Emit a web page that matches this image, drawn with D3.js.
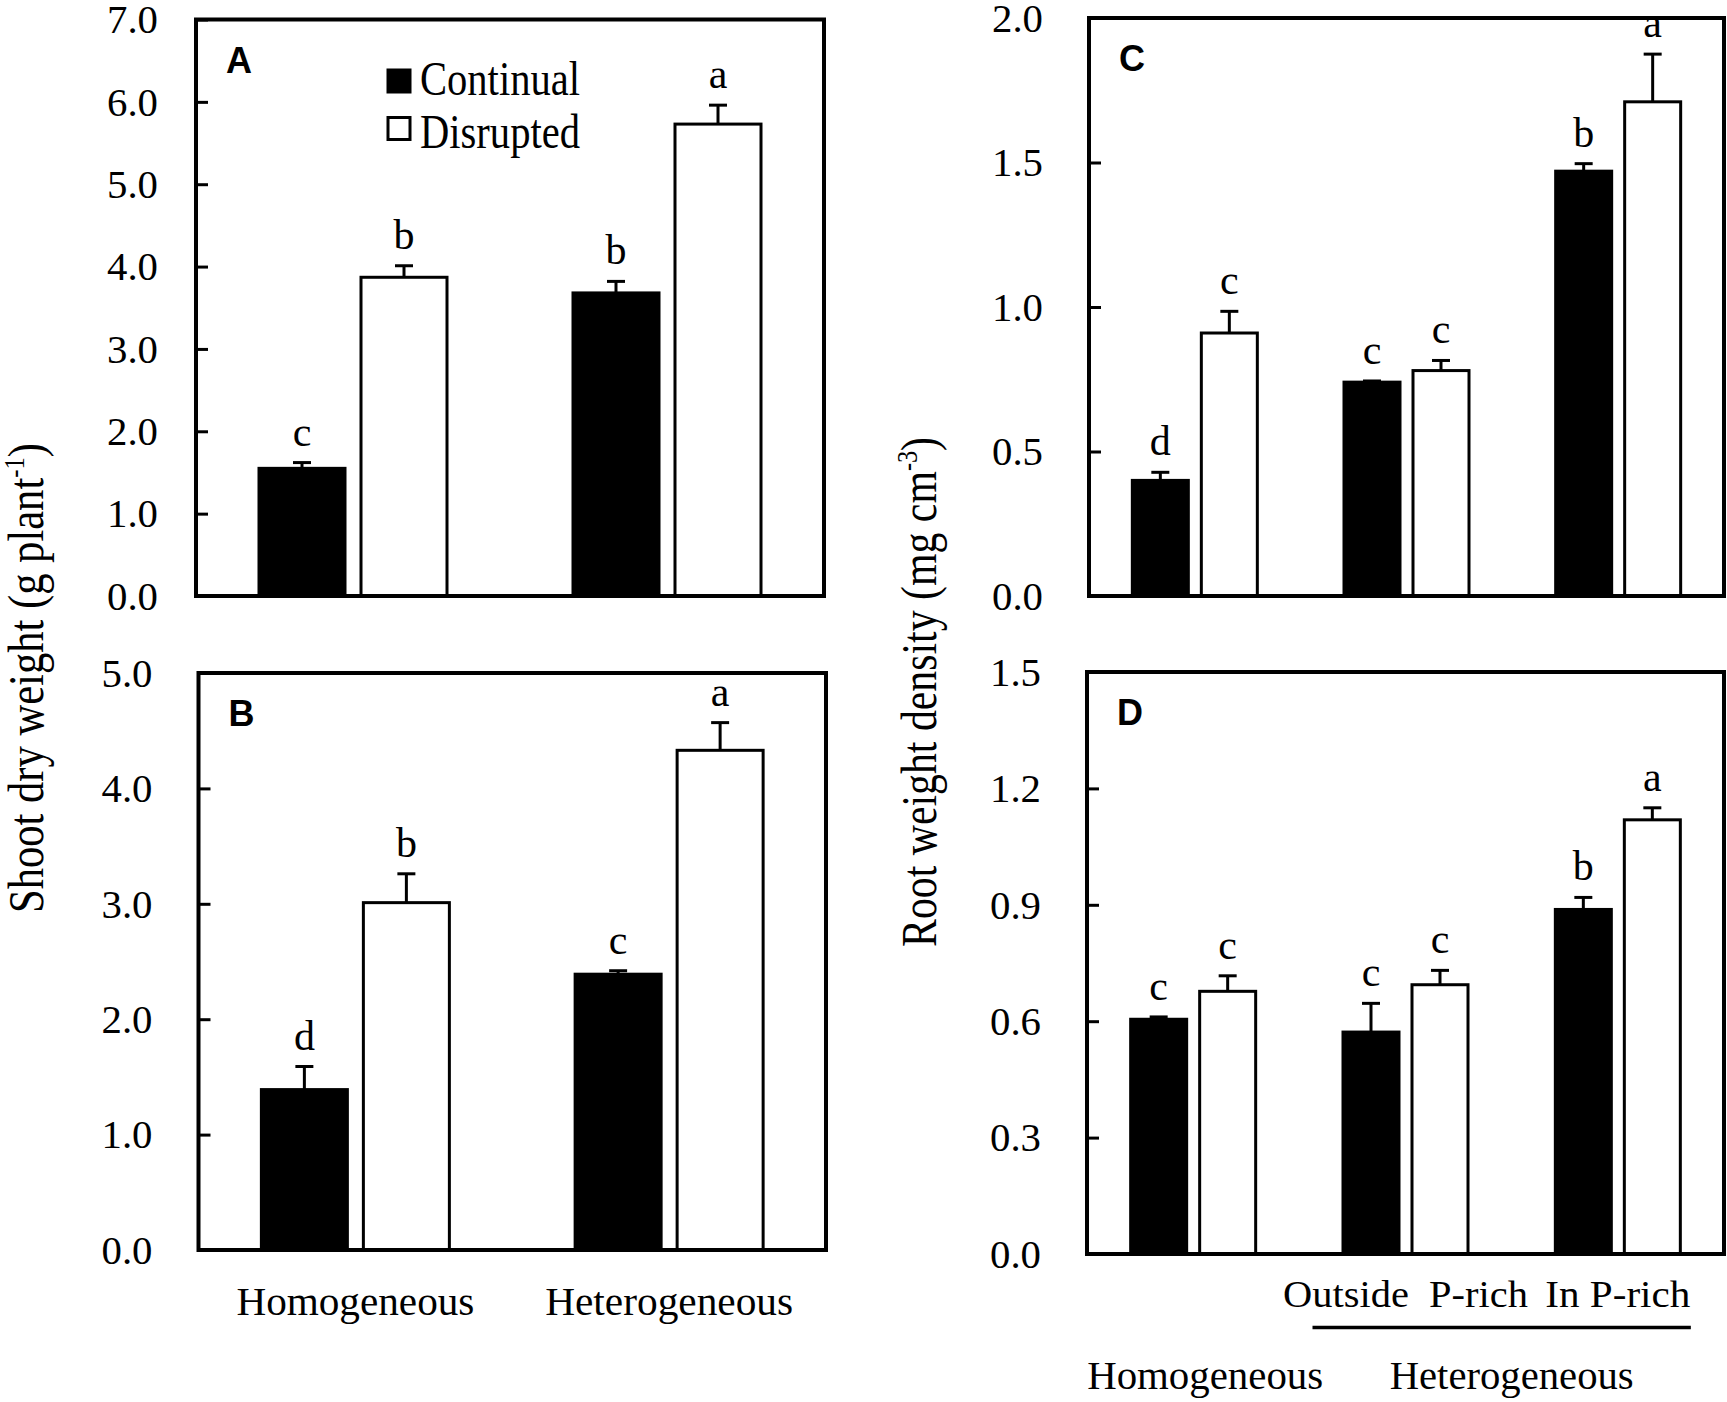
<!DOCTYPE html>
<html>
<head>
<meta charset="utf-8">
<script src="https://cdn.jsdelivr.net/npm/d3@7"></script>
<style>
  body { margin: 0; background: #fff; }
  text { font-family: "Liberation Serif", "Times New Roman", serif; fill: #000; }
</style>
</head>
<body>
<script>
// data
var series = ['Continual', 'Disrupted'];
var groupsAB = ['Homogeneous', 'Heterogeneous'];
var groupsCD = ['Homogeneous', 'Outside P-rich', 'In P-rich'];

// A: shoot dry weight
var contA = [1.55, 3.68], contErrA = [0.07, 0.14], contLetA = ['c', 'b'];
var disrA = [3.87, 5.73], disrErrA = [0.14, 0.23], disrLetA = ['b', 'a'];
var ticksA = [0, 1, 2, 3, 4, 5, 6, 7];

// B: shoot dry weight
var contB = [1.39, 2.39], contErrB = [0.20, 0.03], contLetB = ['d', 'c'];
var disrB = [3.01, 4.33], disrErrB = [0.25, 0.24], disrLetB = ['b', 'a'];
var ticksB = [0, 1, 2, 3, 4, 5];

// C: root weight density
var contC = [0.40, 0.74, 1.47], contErrC = [0.028, 0.004, 0.026], contLetC = ['d', 'c', 'b'];
var disrC = [0.91, 0.78, 1.71], disrErrC = [0.075, 0.035, 0.165], disrLetC = ['c', 'c', 'a'];
var ticksC = [0, 0.5, 1, 1.5, 2];

// D: root weight density
var contD = [0.605, 0.572, 0.888], contErrD = [0.006, 0.074, 0.031], contLetD = ['c', 'c', 'b'];
var disrD = [0.677, 0.694, 1.119], disrErrD = [0.040, 0.037, 0.031], disrLetD = ['c', 'c', 'a'];
var ticksD = [0, 0.3, 0.6, 0.9, 1.2, 1.5];

var labelsAB = ['Homogeneous', 'Heterogeneous'];
var labelsD = ['', 'Outside  P-rich', 'In P-rich'];

// global dom stuff
var width = 1727, height = 1402;
var svg = d3.select('body').append('svg')
  .attr('width', width)
  .attr('height', height);

function rows(groups, cont, contErr, contLet, disr, disrErr, disrLet) {
  var out = [];
  groups.forEach((g, i) => {
    out.push({group: g, s: 'Continual', v: cont[i], e: contErr[i], l: contLet[i]});
    out.push({group: g, s: 'Disrupted', v: disr[i], e: disrErr[i], l: disrLet[i]});
  });
  return out;
}

var panels = [
  {name: 'A', x0: 196, x1: 824, y0: 19.5, y1: 596, groups: groupsAB, max: 7, ticks: ticksA, pad: 38,
   bar: 86, gap: 16, data: rows(groupsAB, contA, contErrA, contLetA, disrA, disrErrA, disrLetA)},
  {name: 'B', x0: 198.5, x1: 826, y0: 673, y1: 1250, groups: groupsAB, max: 5, ticks: ticksB, pad: 46,
   bar: 86, gap: 16, data: rows(groupsAB, contB, contErrB, contLetB, disrB, disrErrB, disrLetB)},
  {name: 'C', x0: 1089, x1: 1724, y0: 18, y1: 596, groups: groupsCD, max: 2, ticks: ticksC, pad: 46,
   bar: 56, gap: 13, data: rows(groupsCD, contC, contErrC, contLetC, disrC, disrErrC, disrLetC)},
  {name: 'D', x0: 1087, x1: 1724, y0: 672, y1: 1254, groups: groupsCD, max: 1.5, ticks: ticksD, pad: 46,
   bar: 56, gap: 13, data: rows(groupsCD, contD, contErrD, contLetD, disrD, disrErrD, disrLetD)}
];

panels.forEach(p => {
  var g = svg.append('g');
  var x = d3.scaleBand().domain(p.groups).range([p.x0, p.x1]).padding(0);
  var span = p.bar * 2 + p.gap;
  var xs = d3.scaleBand().domain(series)
    .range([x.bandwidth() / 2 - span / 2, x.bandwidth() / 2 + span / 2])
    .paddingInner(p.gap / (p.bar + p.gap)).paddingOuter(0);
  var y = d3.scaleLinear().domain([0, p.max]).range([p.y1, p.y0]);
  p.x = x; p.y = y;

  // bars
  g.selectAll('rect.bar')
    .data(p.data)
    .join('rect')
      .attr('class', 'bar')
      .attr('x', d => x(d.group) + xs(d.s))
      .attr('width', xs.bandwidth())
      .attr('y', d => y(d.v))
      .attr('height', d => y(0) - y(d.v))
      .attr('fill', d => d.s === 'Continual' ? '#000' : '#fff')
      .attr('stroke', '#000')
      .attr('stroke-width', 3);

  // error bars (upper only)
  var cx = d => x(d.group) + xs(d.s) + xs.bandwidth() / 2;
  g.selectAll('line.err')
    .data(p.data)
    .join('line')
      .attr('class', 'err')
      .attr('x1', cx).attr('x2', cx)
      .attr('y1', d => y(d.v)).attr('y2', d => y(d.v + d.e))
      .attr('stroke', '#000').attr('stroke-width', 3);
  g.selectAll('line.cap')
    .data(p.data)
    .join('line')
      .attr('class', 'cap')
      .attr('x1', d => cx(d) - 9).attr('x2', d => cx(d) + 9)
      .attr('y1', d => y(d.v + d.e)).attr('y2', d => y(d.v + d.e))
      .attr('stroke', '#000').attr('stroke-width', 3);

  // significance letters
  g.selectAll('text.let')
    .data(p.data)
    .join('text')
      .attr('class', 'let')
      .attr('x', cx)
      .attr('y', d => y(d.v + d.e) - 17)
      .attr('text-anchor', 'middle')
      .style('font-size', '42px')
      .text(d => d.l);

  // y axis, ticks pointing in
  var ax = g.append('g')
    .attr('transform', 'translate(' + p.x0 + ',0)')
    .call(d3.axisLeft(y).tickValues(p.ticks).tickFormat(d3.format('.1f'))
      .tickSizeInner(-12).tickSizeOuter(0).tickPadding(p.pad));
  ax.select('.domain').remove();
  ax.selectAll('.tick line').attr('stroke', '#000').attr('stroke-width', 3);
  ax.selectAll('.tick text')
    .attr('font-family', null)
    .attr('dy', '0.34em')
    .style('font-size', '39px')
    .attr('textLength', 51)
    .attr('lengthAdjust', 'spacingAndGlyphs');

  // frame
  g.append('rect')
    .attr('x', p.x0).attr('y', p.y0)
    .attr('width', p.x1 - p.x0).attr('height', p.y1 - p.y0)
    .attr('fill', 'none').attr('stroke', '#000').attr('stroke-width', 4);

  // panel letter
  g.append('text')
    .attr('x', p.x0 + 30).attr('y', p.y0 + 53)
    .style('font-family', '"Liberation Sans", Arial, sans-serif')
    .style('font-weight', 'bold')
    .style('font-size', '36px')
    .text(p.name);
});

// legend in A
var legend = svg.append('g');
series.forEach((s, i) => {
  legend.append('rect')
    .attr('x', 388).attr('y', 70 + i * 47.5)
    .attr('width', 22).attr('height', 22)
    .attr('fill', s === 'Continual' ? '#000' : '#fff')
    .attr('stroke', '#000').attr('stroke-width', 3);
  legend.append('text')
    .attr('x', 420).attr('y', 95 + i * 53)
    .style('font-size', '48px')
    .attr('textLength', 160)
    .attr('lengthAdjust', 'spacingAndGlyphs')
    .text(s);
});

// x axis of B
var pB = panels[1];
var axB = svg.append('g')
  .attr('transform', 'translate(0,' + pB.y1 + ')')
  .call(d3.axisBottom(pB.x).tickSize(0).tickFormat((d, i) => labelsAB[i]));
axB.select('.domain').remove();
axB.selectAll('.tick text')
  .attr('font-family', null)
  .attr('y', 65).attr('dy', 0)
  .style('font-size', '39px')
  .attr('textLength', (d, i) => i === 0 ? 238 : 248)
  .attr('lengthAdjust', 'spacingAndGlyphs');

// x axis of D
var pD = panels[3];
var axD = svg.append('g')
  .attr('transform', 'translate(0,' + pD.y1 + ')')
  .call(d3.axisBottom(pD.x).tickSize(0).tickFormat((d, i) => labelsD[i]));
axD.select('.domain').remove();
axD.selectAll('.tick text')
  .attr('font-family', null)
  .attr('y', 53).attr('dy', 0)
  .style('font-size', '38px')
  .style('white-space', 'pre')
  .attr('textLength', (d, i) => i === 0 ? null : (i === 1 ? 245 : 145))
  .attr('lengthAdjust', 'spacingAndGlyphs');

var c1 = pD.x(groupsCD[1]) + pD.x.bandwidth() / 2;
var c2 = pD.x(groupsCD[2]) + pD.x.bandwidth() / 2;
svg.append('line')
  .attr('x1', c1 - 93).attr('x2', c2 + 73)
  .attr('y1', 1327.5).attr('y2', 1327.5)
  .attr('stroke', '#000').attr('stroke-width', 3.5);

var c0 = pD.x(groupsCD[0]) + pD.x.bandwidth() / 2;
svg.append('text')
  .attr('x', c0 + 12).attr('y', 1389)
  .attr('text-anchor', 'middle')
  .style('font-size', '40px')
  .attr('textLength', 236).attr('lengthAdjust', 'spacingAndGlyphs')
  .text('Homogeneous');
svg.append('text')
  .attr('x', (c1 + c2) / 2).attr('y', 1389)
  .attr('text-anchor', 'middle')
  .style('font-size', '40px')
  .attr('textLength', 244).attr('lengthAdjust', 'spacingAndGlyphs')
  .text('Heterogeneous');

// y titles
function yTitle(x, y, len, main, sup) {
  var t = svg.append('text')
    .attr('transform', 'translate(' + x + ',' + y + ') rotate(-90)')
    .attr('text-anchor', 'middle')
    .style('font-size', '50px')
    .attr('textLength', len)
    .attr('lengthAdjust', 'spacingAndGlyphs');
  t.append('tspan').text(main);
  t.append('tspan').attr('dy', -19).style('font-size', '29px').text(sup);
  t.append('tspan').attr('dy', 19).text(')');
}
yTitle(43, 678, 470, 'Shoot dry weight (g plant', '-1');
yTitle(936, 692, 510, 'Root weight density (mg cm', '-3');
</script>
</body>
</html>
